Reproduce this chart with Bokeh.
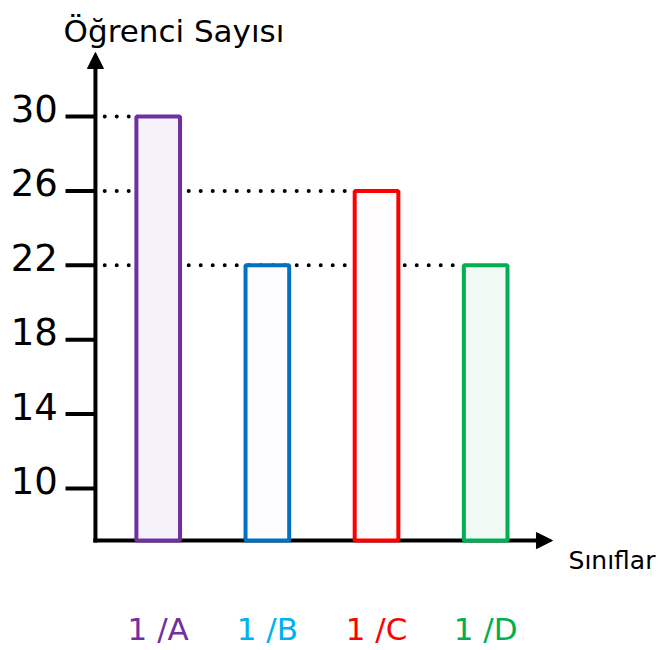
from bokeh.plotting import figure
from bokeh.models import Range1d, Arrow, NormalHead, ColumnDataSource
from bokeh.core.properties import value
from bokeh.embed import file_html
from bokeh.resources import INLINE

# ---- data ----
classes = ["1 /A", "1 /B", "1 /C", "1 /D"]
students = [30, 22, 26, 22]
y_ticks = [10, 14, 18, 22, 26, 30]
y_tick_labels = ["10", "14", "18", "22", "26", "30"]
bar_line_colors = ["#7030A0", "#0070C0", "#FF0000", "#00B050"]
bar_fill_colors = ["#F5F2FA", "#FCFCFE", "#FFFDFD", "#F1F9F4"]
label_colors = ["#7030A0", "#00B0F0", "#FF0000", "#00B050"]
y_title = "Öğrenci Sayısı"
x_title = "Sınıflar"

# ---- layout constants ----
FONT = value("DejaVu Sans")
X0, X1 = -1.4448, 4.620
Y0, Y1 = 1.291, 36.237
AXIS_X = -0.575
BASE = 7.2
Y_ARROW_TOP = 33.44
X_ARROW_END = 3.612
TICK_X0 = -0.849
TICK_LABEL_X = -0.92
BAR_W = 0.40
GUIDE_X0 = -0.49
GUIDE_GAP = 0.06
CAT_LABEL_Y = 2.45

idx = list(range(len(classes)))

p = figure(width=662, height=650, output_backend="svg", toolbar_location=None,
           x_range=Range1d(X0, X1), y_range=Range1d(Y0, Y1),
           x_axis_location=None, y_axis_location=None, min_border=0)
p.grid.visible = False
p.outline_line_color = None
p.background_fill_color = "white"
p.border_fill_color = "white"

# axes with arrows
p.add_layout(Arrow(end=NormalHead(size=16, fill_color="black", line_color="black", line_width=1),
                   x_start=AXIS_X, y_start=BASE - 0.1, x_end=AXIS_X, y_end=Y_ARROW_TOP,
                   line_width=4, line_color="black", level="underlay"))
p.add_layout(Arrow(end=NormalHead(size=16, fill_color="black", line_color="black", line_width=1),
                   x_start=AXIS_X - 0.02, y_start=BASE, x_end=X_ARROW_END, y_end=BASE,
                   line_width=4, line_color="black", level="underlay"))

# tick marks and labels
p.segment(x0=[TICK_X0] * len(y_ticks), y0=y_ticks, x1=[AXIS_X] * len(y_ticks), y1=y_ticks,
          line_width=4, line_color="black")
p.text(x=[TICK_LABEL_X] * len(y_ticks), y=y_ticks, text=y_tick_labels,
       text_font=FONT, text_font_size="37px", text_align="right",
       text_baseline="middle", y_offset=-8, text_color="black")

# dotted guide lines from axis to the last bar of each value
guide_vals = []
guide_ends = []
for v in sorted(set(students), reverse=True):
    last = max(i for i, s in enumerate(students) if s == v)
    guide_vals.append(v)
    guide_ends.append(idx[last] - BAR_W / 2 - GUIDE_GAP)
p.segment(x0=[GUIDE_X0] * len(guide_vals), y0=guide_vals, x1=guide_ends, y1=guide_vals,
          line_width=4, line_color="black", line_dash="0 12", line_cap="round")

# bars
src = ColumnDataSource(dict(x=idx, top=students, lc=bar_line_colors, fc=bar_fill_colors))
p.vbar(x="x", top="top", bottom=BASE, width=BAR_W, source=src,
       line_color="lc", fill_color="fc", line_width=4)

# category labels
p.text(x=idx, y=[CAT_LABEL_Y] * len(idx), text=classes, text_color=label_colors,
       text_font=FONT, text_font_size="31px", text_align="center", text_baseline="middle")

# axis titles
p.text(x=[-0.867], y=[34.62], text=[y_title], text_font=FONT, text_font_size="31px",
       text_align="left", text_baseline="alphabetic", text_color="black")
p.text(x=[3.759], y=[6.13], text=[x_title], text_font=FONT, text_font_size="25px",
       text_align="left", text_baseline="middle", text_color="black")

open("out.html", "w").write(file_html(p, INLINE))
